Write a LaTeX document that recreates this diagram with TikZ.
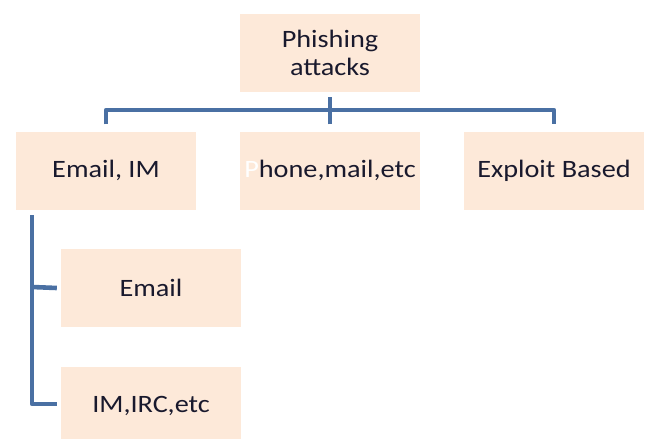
\documentclass[tikz,border=0pt]{standalone}
\usepackage{fontspec}
\setmainfont{Carlito}[FakeStretch=1.13]
\definecolor{boxfill}{RGB}{253,233,217}
\definecolor{linec}{RGB}{74,112,163}
\definecolor{txt}{RGB}{25,25,45}
\begin{document}
\begin{tikzpicture}[x=1pt,y=-1pt,
  box/.style={fill=boxfill,draw=none,minimum width=180pt,minimum height=78pt,inner sep=0pt,
    text=txt,font=\fontsize{25}{28}\selectfont,align=center},
  conn/.style={draw=linec,line width=4.6pt,line join=round}]
\useasboundingbox (0,0) rectangle (645,439);
\node[box] (top) at (330,53) {Phishing\\attacks};
\node[box] (em) at (106,170.5) {Email, IM};
\node[box] (ph) at (330,170.5) {\textcolor{white}{P}hone,mail,etc};
\node[box] (ex) at (554,170.5) {Exploit Based};
\node[box] (e2) at (151,288) {Email};
\path[fill=boxfill] (61,367) rectangle (241,439);
\node[box,fill=none] (im) at (151,406) {IM,IRC,etc};
\coordinate (hb) at (330,110);
\draw[conn] ([yshift=-5pt]top.south) -- (hb);
\draw[conn] ([yshift=7pt]em.north) -- (em.north |- hb) -- (ex.north |- hb) -- ([yshift=7pt]ex.north);
\draw[conn] ([yshift=7pt]ph.north) -- (hb);
\coordinate (vt) at (32,215);
\draw[conn] (vt) -- (32,404) -- ([xshift=-4pt]im.west |- 0,404);
\draw[conn] (32,287) -- ([xshift=-4pt]e2.west);
\end{tikzpicture}
\end{document}
